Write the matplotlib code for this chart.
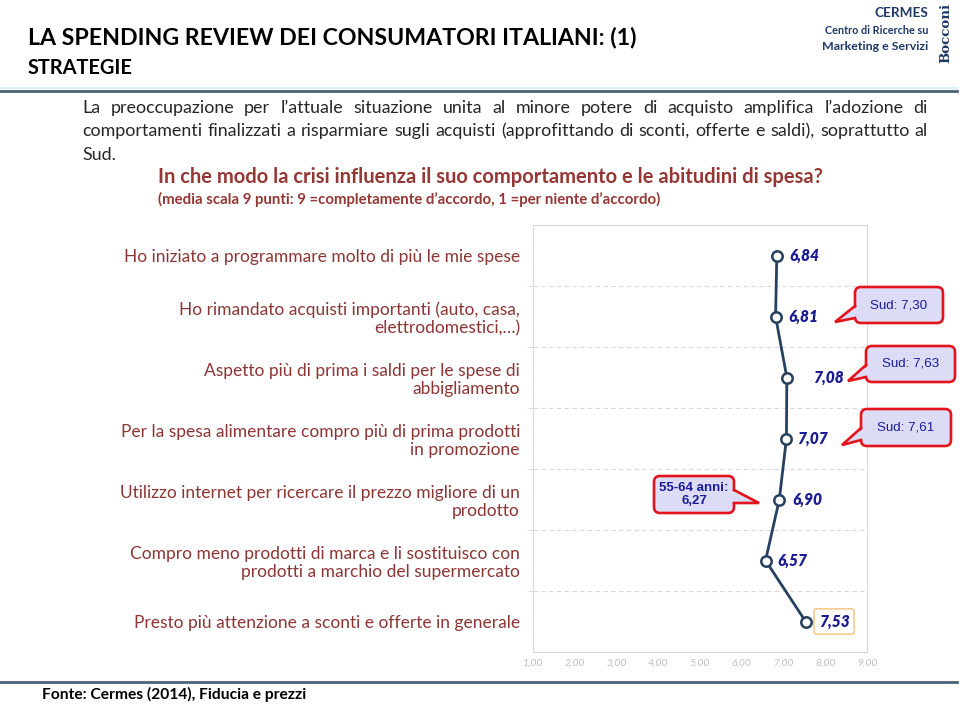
import matplotlib
matplotlib.use('Agg')
import matplotlib.pyplot as plt
from matplotlib.patches import FancyBboxPatch, Polygon
from matplotlib.transforms import Affine2D
from matplotlib.lines import Line2D

# --- data ---
categories = [
    "Ho iniziato a programmare molto di più le mie spese",
    "Ho rimandato acquisti importanti (auto, casa,\nelettrodomestici,…)",
    "Aspetto più di prima i saldi per le spese di\nabbigliamento",
    "Per la spesa alimentare compro più di prima prodotti\nin promozione",
    "Utilizzo internet per ricercare il prezzo migliore di un\nprodotto",
    "Compro meno prodotti di marca e li sostituisco con\nprodotti a marchio del supermercato",
    "Presto più attenzione a sconti e offerte in generale",
]
values = [6.84, 6.81, 7.08, 7.07, 6.90, 6.57, 7.53]
x_ticks = [1, 2, 3, 4, 5, 6, 7, 8, 9]
callout_texts = ["Sud: 7,30", "Sud: 7,63", "Sud: 7,61", "55-64 anni:\n6,27"]

title = "LA SPENDING REVIEW DEI CONSUMATORI ITALIANI: (1)"
subtitle = "STRATEGIE"
paragraph = [
    "La preoccupazione per l’attuale situazione unita al minore potere di acquisto amplifica l’adozione di",
    "comportamenti finalizzati a risparmiare sugli acquisti (approfittando di sconti, offerte e saldi), soprattutto al",
    "Sud.",
]
question = "In che modo la crisi influenza il suo comportamento e le abitudini di spesa?"
scale_note = "(media scala 9 punti: 9 =completamente d’accordo, 1 =per niente d’accordo)"
source = "Fonte: Cermes (2014), Fiducia e prezzi"

SANS = "Lato"
ARIAL = "Liberation Sans"
NAVY = "#1B1B94"
LOGO = "#1F3864"
MAROON = "#8C3535"
LINE = "#26405E"
RED = "#E3141B"
LAV = "#DCDCF6"

W, H = 960, 705
fig = plt.figure(figsize=(W / 100, H / 100), dpi=100)
PX = Affine2D().scale(1 / W, -1 / H).translate(0, 1) + fig.transFigure
renderer = fig.canvas.get_renderer()


def width_px(text, size, **kw):
    t = fig.text(0, 0, text, fontsize=size, **kw)
    w = t.get_window_extent(renderer).width
    t.remove()
    return w


def fit(text, target, **kw):
    return 20 * target / width_px(text, 20, **kw)


def justify(line, x0, x1, y, size, **kw):
    words = line.split(' ')
    ws = [width_px(w, size, **kw) for w in words]
    gap = (x1 - x0 - sum(ws)) / (len(words) - 1)
    x = x0
    for w, wd in zip(words, ws):
        fig.text(x, y, w, transform=PX, fontsize=size, va='center', ha='left', **kw)
        x += wd + gap


# header
fs = fit(title, 608, family=SANS, weight='bold')
fig.text(28, 38, title, transform=PX, fontsize=fs, family=SANS, weight='bold', va='center', color='black')
fs = fit(subtitle, 105, family=SANS, weight='bold')
fig.text(28, 68, subtitle, transform=PX, fontsize=fs, family=SANS, weight='bold', va='center', color='black')

for txt, y, wd in [("CERMES", 13, 54), ("Centro di Ricerche su", 30, 104), ("Marketing e Servizi", 47, 106)]:
    fig.text(928, y, txt, transform=PX, fontsize=fit(txt, wd, family=SANS, weight='bold'),
             family=SANS, weight='bold', color=LOGO, ha='right', va='center')
fs = fit("Bocconi", 60, family='DejaVu Serif', weight='bold')
fig.text(946, 33, "Bocconi", transform=PX, fontsize=fs, family='DejaVu Serif', weight='bold',
         color=LOGO, rotation=90, ha='center', va='center')

fig.add_artist(Line2D([0, 957], [88, 88], transform=PX, color='#DDF2F8', lw=1.5))
fig.add_artist(Line2D([0, 957], [91, 91], transform=PX, color='#4B6275', lw=2))
fig.add_artist(Line2D([0, 957], [682, 682], transform=PX, color='#4B6275', lw=2))

# paragraph
ps = fit(paragraph[1], 838, family=SANS)
justify(paragraph[0], 82, 928, 108, ps, family=SANS, color='#262626')
justify(paragraph[1], 82, 928, 131, ps, family=SANS, color='#262626')
fig.text(82, 155, paragraph[2], transform=PX, fontsize=ps, family=SANS, color='#262626', va='center')

fs = fit(question, 664, family=SANS, weight='bold')
fig.text(158, 177, question, transform=PX, fontsize=fs, family=SANS, weight='bold', color='#953735', va='center')
fs = fit(scale_note, 505, family=SANS, weight='bold')
fig.text(158, 199, scale_note, transform=PX, fontsize=fs, family=SANS, weight='bold', color='#953735', va='center')

fs = fit(source, 266, family=SANS, weight='bold')
fig.text(42, 694, source, transform=PX, fontsize=fs, family=SANS, weight='bold', color='black', va='center')

# chart
ax = fig.add_axes([533 / W, 1 - 652 / H, (867 - 533) / W, (652 - 225) / H])
rows = list(range(len(values)))
ax.set_xlim(1, 9)
ax.set_ylim(len(values) - 0.5, -0.5)
for s in ax.spines.values():
    s.set_color('#D9D9D9')
    s.set_linewidth(0.8)
for b in rows[:-1]:
    ax.axhline(b + 0.5, color='#D9D9D9', ls=(0, (4, 3)), lw=0.8, zorder=1)

ax.plot(values, rows, color=LINE, lw=2, marker='o', ms=7.5, mfc='white', mec=LINE, mew=1.8, zorder=3)

lab_fs = fit(categories[0], 397, family=SANS)
ax.set_yticks(rows, categories, fontsize=lab_fs, family=SANS, color=MAROON, linespacing=1.15)
ax.set_yticks([r + 0.5 for r in rows[:-1]], minor=True)
ax.tick_params(axis='y', which='major', length=0, pad=9.4)
ax.tick_params(axis='y', which='minor', length=4, color='#D9D9D9')
ax.set_xticks(x_ticks, [f"{v:.2f}".replace('.', ',') for v in x_ticks],
              fontsize=7.5, family=SANS, style='italic', color='#BFBFBF')
ax.tick_params(axis='x', length=0, pad=5)

val_fs = fit("6,84", 30, family=SANS, weight='heavy', style='italic')
offsets = [13, 13, 26, 11, 13, 12, 13]
for i, (v, r) in enumerate(zip(values, rows)):
    kw = {}
    if i == len(values) - 1:
        kw['bbox'] = dict(boxstyle='round,pad=0.3,rounding_size=0.15', fc='white', ec='#F2C27C', lw=1)
    ax.annotate(f"{v:.2f}".replace('.', ','), (v, r), xytext=(offsets[i], 0), textcoords='offset pixels',
                va='center', ha='left', fontsize=val_fs, family=SANS, weight='heavy', style='italic',
                color=NAVY, **kw)

# callouts (box x0, y0, x1, y1 / pointer tip / pointer base on box side)
callouts = [
    ((855, 287, 943, 323), (835, 322), (306, 318), 'left'),
    ((866, 346, 955, 382), (848, 381), (365, 377), 'left'),
    ((861, 409, 951, 446), (842, 445), (428, 440), 'left'),
    ((654, 476, 734, 513), (759, 503), (490, 503), 'right'),
]
sud_fs = fit("Sud: 7,30", 57, family=ARIAL)
age_fs = fit("55-64 anni:", 69, family=ARIAL, weight='bold')
for txt, (box, tip, base, side) in zip(callout_texts, callouts):
    x0, y0, x1, y1 = box
    fig.add_artist(FancyBboxPatch((x0, y0), x1 - x0, y1 - y0, boxstyle='round,pad=0,rounding_size=6',
                                  transform=PX, fc=LAV, ec=RED, lw=1.9, zorder=5))
    bx, inner = (x0, x0 + 3) if side == 'left' else (x1, x1 - 3)
    fig.add_artist(Polygon([(inner, base[0]), tip, (inner, base[1])], closed=True, transform=PX,
                           fc=LAV, ec='none', zorder=6))
    fig.add_artist(Line2D([bx, tip[0], bx], [base[0], tip[1], base[1]], transform=PX,
                          color=RED, lw=1.9, zorder=6, solid_joinstyle='miter'))
    if side == 'right':
        size, bold = age_fs, 'bold'
    else:
        size, bold = sud_fs, 'normal'
    fig.text((x0 + x1) / 2, (y0 + y1) / 2, txt, transform=PX, ha='center', va='center',
             fontsize=size, family=ARIAL, weight=bold, color=NAVY, zorder=7, linespacing=1.05)

fig.savefig('out.png', dpi=100)
